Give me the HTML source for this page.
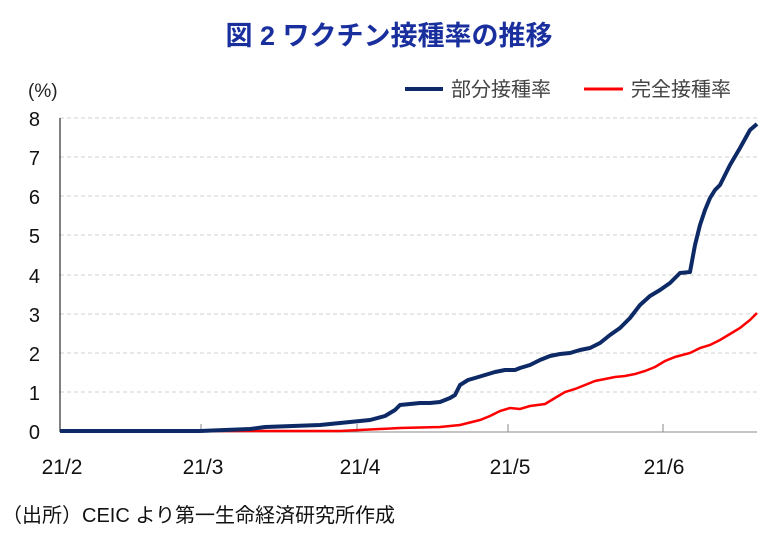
<!DOCTYPE html>
<html><head><meta charset="utf-8"><style>
body{margin:0;background:#fff;width:768px;height:539px;overflow:hidden}
svg text{font-family:"Liberation Sans","Noto Sans CJK JP",sans-serif}
</style></head><body>
<svg width="768" height="539" xmlns="http://www.w3.org/2000/svg">
<text x="389" y="45" text-anchor="middle" font-size="27" font-weight="bold" fill="#1a2f9e">図 2  ワクチン接種率の推移</text>
<text x="28" y="97" font-size="19" fill="#222">(%)</text>
<g stroke="#d0d0d0" stroke-dasharray="4,3" stroke-width="1">
<line x1="60" x2="757" y1="392" y2="392"/><line x1="60" x2="757" y1="353" y2="353"/>
<line x1="60" x2="757" y1="314" y2="314"/><line x1="60" x2="757" y1="275" y2="275"/>
<line x1="60" x2="757" y1="235" y2="235"/><line x1="60" x2="757" y1="196" y2="196"/>
<line x1="60" x2="757" y1="157" y2="157"/><line x1="60" x2="757" y1="118" y2="118"/>
</g>
<line x1="60" x2="60" y1="118" y2="432" stroke="#000" stroke-width="1"/>
<line x1="60" x2="757" y1="432" y2="432" stroke="#888" stroke-width="1"/>
<g stroke="#888"><line x1="201" x2="201" y1="424" y2="432"/><line x1="357" x2="357" y1="424" y2="432"/><line x1="508" x2="508" y1="424" y2="432"/><line x1="663" x2="663" y1="424" y2="432"/></g>
<g font-size="20" fill="#111" text-anchor="end">
<text x="40" y="439">0</text><text x="40" y="400">1</text><text x="40" y="361">2</text><text x="40" y="322">3</text><text x="40" y="283">4</text><text x="40" y="243">5</text><text x="40" y="204">6</text><text x="40" y="165">7</text><text x="40" y="126">8</text>
</g>
<g font-size="21" fill="#111" text-anchor="middle">
<text x="62" y="474">21/2</text><text x="203" y="474">21/3</text><text x="360" y="474">21/4</text><text x="510" y="474">21/5</text><text x="664" y="474">21/6</text>
</g>
<polyline fill="none" stroke="#ff0000" stroke-width="2.5" points="60,431 340,431 360,430 400,428 440,427 460,425 480,420 490,416 500,411 510,408 520,409 530,406 545,404 555,398 565,392 575,389 585,385 595,381 605,379 615,377 625,376 635,374 645,371 655,367 665,361 675,357 690,353 700,348 710,345 720,340 730,334 740,328 750,320 757,313"/>
<polyline fill="none" stroke="#0d2a66" stroke-width="4" stroke-linejoin="round" points="60,431 200,431 250,429 265,427 320,425 350,422 370,420 385,416 395,410 400,405 410,404 420,403 430,403 440,402 450,398 455,395 460,385 468,380 475,378 485,375 495,372 505,370 515,370 520,368 530,365 540,360 550,356 560,354 570,353 580,350 590,348 600,343 610,335 620,328 630,318 640,305 650,296 660,290 670,283 680,273 690,272 695,245 700,225 705,210 710,198 715,190 720,185 730,165 740,148 750,130 757,124"/>
<line x1="405" x2="443" y1="89" y2="89" stroke="#0d2a66" stroke-width="4"/>
<text x="451" y="96" font-size="20" fill="#444">部分接種率</text>
<line x1="584" x2="623" y1="89" y2="89" stroke="#ff0000" stroke-width="3"/>
<text x="631" y="96" font-size="20" fill="#444">完全接種率</text>
<text x="2" y="522" font-size="20" fill="#111">（出所）CEIC より第一生命経済研究所作成</text>
</svg>
</body></html>
